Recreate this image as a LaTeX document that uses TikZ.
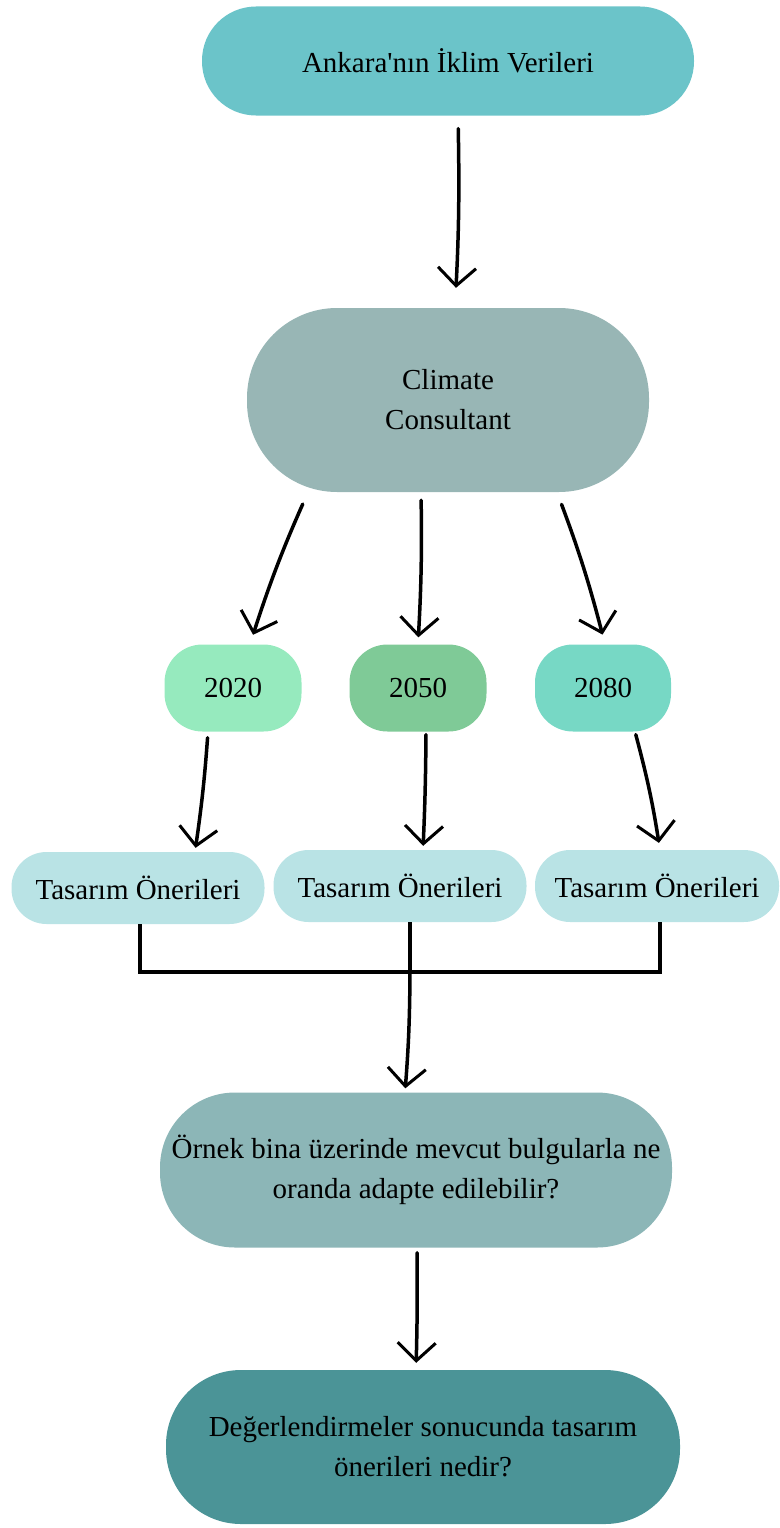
\documentclass[tikz,border=0pt]{standalone}
\usepackage{fontspec}
\setmainfont[Ligatures=TeXOff]{Liberation Serif}
\usetikzlibrary{arrows.meta,shapes.misc}
\definecolor{cAnk}{HTML}{6BC4C9}
\definecolor{cCli}{HTML}{98B6B5}
\definecolor{cYa}{HTML}{96EABE}
\definecolor{cYb}{HTML}{7FCA97}
\definecolor{cYc}{HTML}{77D8C5}
\definecolor{cTas}{HTML}{B9E3E5}
\definecolor{cOrn}{HTML}{8CB6B7}
\definecolor{cDeg}{HTML}{4B9497}
\begin{document}
\begin{tikzpicture}[x=1pt,y=-1pt,
  box/.style={inner sep=0pt, align=center, font=\fontsize{29}{40}\selectfont},
  harrow/.style={line width=3.5pt, line cap=round, -{Straight Barb[length=18pt,width=38pt,line width=3pt]}},
  plain/.style={line width=3.5pt}]
\useasboundingbox (0,0) rectangle (779,1528);
\node[box, fill=cAnk, minimum width=492pt, minimum height=109pt, rounded corners=54pt] (ank) at (448,61) {Ankara'nın İklim Verileri};
\node[box, fill=cCli, minimum width=402pt, minimum height=184pt, rounded corners=90pt] (cc) at (448,400) {Climate\\Consultant};
\node[box, fill=cYa, minimum width=137pt, minimum height=87pt, rounded corners=38pt] (ya) at (233,688) {2020};
\node[box, fill=cYb, minimum width=137pt, minimum height=87pt, rounded corners=38pt] (yb) at (418,688) {2050};
\node[box, fill=cYc, minimum width=136pt, minimum height=87pt, rounded corners=38pt] (yc) at (603,688) {2080};
\node[box, fill=cTas, minimum width=253pt, minimum height=72pt, rounded corners=35pt] (ta) at (138,888) {Tasarım Önerileri};
\node[box, fill=cTas, minimum width=253pt, minimum height=72pt, rounded corners=35pt] (tb) at (400,886) {Tasarım Önerileri};
\node[box, fill=cTas, minimum width=244pt, minimum height=72pt, rounded corners=35pt] (tc) at (657,886) {Tasarım Önerileri};
\node[box, fill=cOrn, minimum width=512pt, minimum height=155pt, rounded corners=75pt] (orn) at (416,1170) {Örnek bina üzerinde mevcut bulgularla ne\\oranda adapte edilebilir?};
\node[box, fill=cDeg, minimum width=514pt, minimum height=154pt, rounded corners=75pt] (deg) at (423,1447) {Değerlendirmeler sonucunda tasarım\\önerileri nedir?};
% arrows
\draw[harrow, shorten <=13pt, shorten >=20pt] ([xshift=10pt]ank.south) to[bend left=2] ([xshift=7pt]cc.north);
\draw[harrow, shorten <=13pt, shorten >=10pt] ([xshift=-140pt]cc.south) to[bend right=3] ([xshift=17pt]ya.north);
\draw[harrow, shorten <=8pt, shorten >=7pt] ([xshift=-27pt]cc.south) to[bend left=2] (yb.north);
\draw[harrow, shorten <=13pt, shorten >=10pt] ([xshift=109pt]cc.south) to[bend left=3] ([xshift=2pt]yc.north);
\draw[harrow, shorten <=6pt, shorten >=4pt] ([xshift=-25pt]ya.south) to[bend left=2] ([xshift=57pt]ta.north);
\draw[harrow, shorten <=3pt, shorten >=4pt] ([xshift=8pt]yb.south) to[bend left=1] ([xshift=23pt]tb.north);
\draw[harrow, shorten <=3pt, shorten >=7pt] ([xshift=32pt]yc.south) to[bend left=3] ([xshift=3pt]tc.north);
% bracket
\coordinate (bj) at (410,972);
\draw[plain] ([xshift=2pt]ta.south) |- (bj) -| ([xshift=3pt]tc.south);
\draw[plain] ([xshift=10pt]tb.south) -- (bj);
\draw[harrow, shorten >=4pt] (bj) to[bend left=2] ([xshift=-11pt]orn.north);
\draw[harrow, shorten <=5pt, shorten >=7pt] ([xshift=1pt]orn.south) to[bend left=1] ([xshift=-7pt]deg.north);
\end{tikzpicture}
\end{document}
